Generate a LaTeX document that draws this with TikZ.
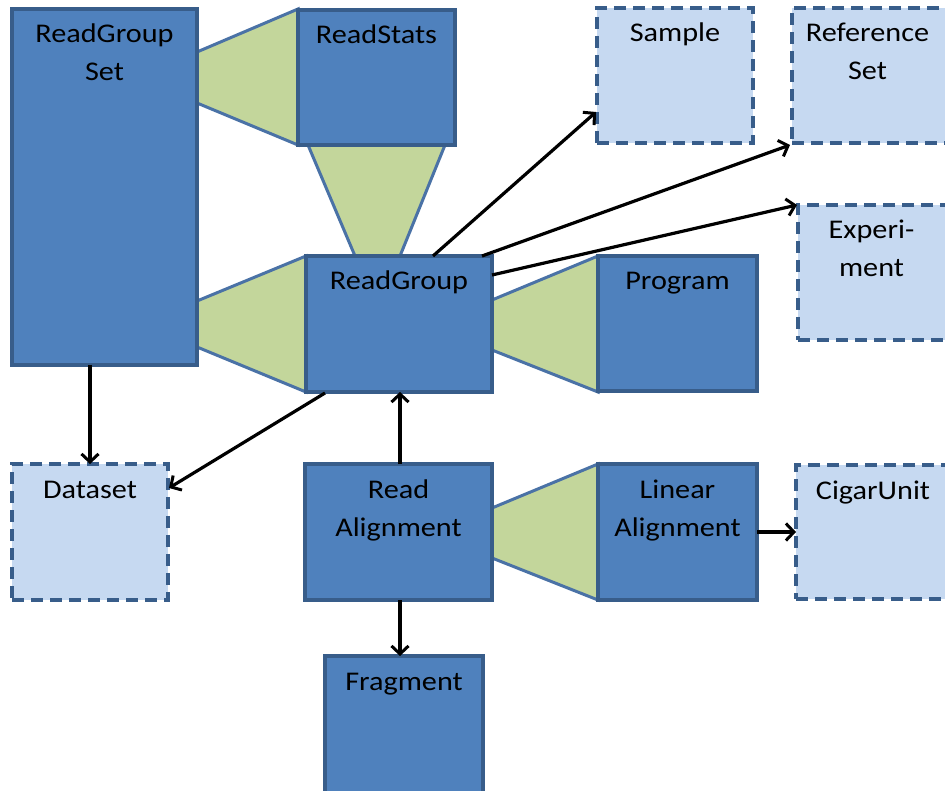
\documentclass[tikz,border=0pt]{standalone}
\usepackage{fontspec}
\setmainfont{Carlito}[FakeStretch=1.12]
\usetikzlibrary{arrows.meta,calc}

\definecolor{boxfill}{HTML}{4F81BD}
\definecolor{boxline}{HTML}{385D8A}
\definecolor{extfill}{HTML}{C6D9F1}
\definecolor{linkfill}{HTML}{C3D69B}
\definecolor{linkline}{HTML}{4A72A6}

\tikzset{
  dbox/.style={draw=boxline, fill=boxfill, line width=3.4pt, inner sep=0pt, outer sep=0pt},
  ebox/.style={draw=boxline, fill=extfill, line width=3.4pt, dash pattern=on 12pt off 7pt,
               inner sep=0pt, outer sep=0pt},
  link/.style={draw=linkline, fill=linkfill, line width=3pt, line join=miter},
  txt/.style={font=\fontsize{27}{38}\selectfont, align=center, inner sep=0pt, anchor=base},
  arr/.style={line width=3.2pt, -{Straight Barb[length=8pt,width=17pt,line width=3pt]}},
}

\begin{document}
\begin{tikzpicture}[x=1pt,y=-1pt]
\useasboundingbox (0,0) rectangle (945,791);
\clip (0,0) rectangle (945,791);
\fill[white] (0,0) rectangle (945,791);

% composition wedges (drawn first, boxes sit on top)
\path[link] (197,52) -- (298,9) -- (298,145) -- (197,103) -- cycle;
\path[link] (308,145) -- (445,145) -- (400,256) -- (355,256) -- cycle;
\path[link] (197,301) -- (306,256) -- (306,392) -- (197,347) -- cycle;
\path[link] (492,300) -- (598,256) -- (598,392) -- (492,350) -- cycle;
\path[link] (492,508) -- (598,464) -- (598,600) -- (492,558) -- cycle;

% core record types
\node[dbox, minimum width=185pt, minimum height=356pt] (rgs)    at (104.5,187) {};
\node[dbox, minimum width=157pt, minimum height=135pt] (rstats) at (376.5,77.5) {};
\node[dbox, minimum width=186pt, minimum height=136pt] (rg)     at (399,324) {};
\node[dbox, minimum width=159pt, minimum height=135pt] (prog)   at (677.5,323.5) {};
\node[dbox, minimum width=187pt, minimum height=136pt] (ralign) at (398.5,532) {};
\node[dbox, minimum width=159pt, minimum height=136pt] (lalign) at (677.5,532) {};
\node[dbox, minimum width=158pt, minimum height=144pt] (frag)   at (404,728) {};

% referenced external types
\node[ebox, minimum width=156pt, minimum height=135pt] (sample)  at (675,75.5) {};
\node[ebox, minimum width=158pt, minimum height=135pt] (refset)  at (871,75.5) {};
\node[ebox, minimum width=152pt, minimum height=135pt] (exper)   at (874,272.5) {};
\node[ebox, minimum width=156pt, minimum height=136pt] (dataset) at (90,532) {};
\node[ebox, minimum width=154pt, minimum height=134pt] (cigar)   at (873,532) {};

% titles: the base anchor sits on the last line, 34pt (one line) or 72pt (two lines) below the top
\node[txt] (t-rgs)     at ($(rgs.north)+(0,72)$)      {ReadGroup\\Set};
\node[txt] (t-rstats)  at ($(rstats.north)+(0,34)$)   {ReadStats};
\node[txt] (t-rg)      at ($(rg.north)+(0,34)$)       {ReadGroup};
\node[txt] (t-prog)    at ($(prog.north)+(0,34)$)     {Program};
\node[txt] (t-ralign)  at ($(ralign.north)+(0,72)$)   {Read\\Alignment};
\node[txt] (t-lalign)  at ($(lalign.north)+(0,72)$)   {Linear\\Alignment};
\node[txt] (t-frag)    at ($(frag.north)+(0,34)$)     {Fragment};
\node[txt] (t-sample)  at ($(sample.north)+(0,34)$)   {Sample};
\node[txt] (t-refset)  at ($(refset.north)+(-3.5,72)$) {Reference\\Set};
\node[txt] (t-exper)   at ($(exper.north)+(-2.5,72)$)  {Experi-\\ment};
\node[txt] (t-dataset) at ($(dataset.north)+(0,34)$)  {Dataset};
\node[txt] (t-cigar)   at ($(cigar.north)+(0,34)$)    {CigarUnit};

% references
\draw[arr] (rgs.south -| dataset.north) -- (dataset.north);
\draw[arr] ($(rg.south west)+(19,1)$) -- ($(dataset.north east)+(1,24)$);
\draw[arr] (ralign.north -| 400,0) -- (rg.south -| 400,0);
\draw[arr] (ralign.south -| 400,0) -- (frag.north -| 400,0);
\draw[arr] (lalign.east) -- (cigar.west);
\draw[arr] ($(rg.north)+(34,0)$) -- ($(sample.west)+(-1,36.5)$);
\draw[arr] ($(rg.north east)+(-10,0)$) -- ($(refset.south west)+(-2,2)$);
\draw[arr] ($(rg.north east)+(0,19)$) -- ($(exper.north west)+(-1,0)$);
\end{tikzpicture}
\end{document}
